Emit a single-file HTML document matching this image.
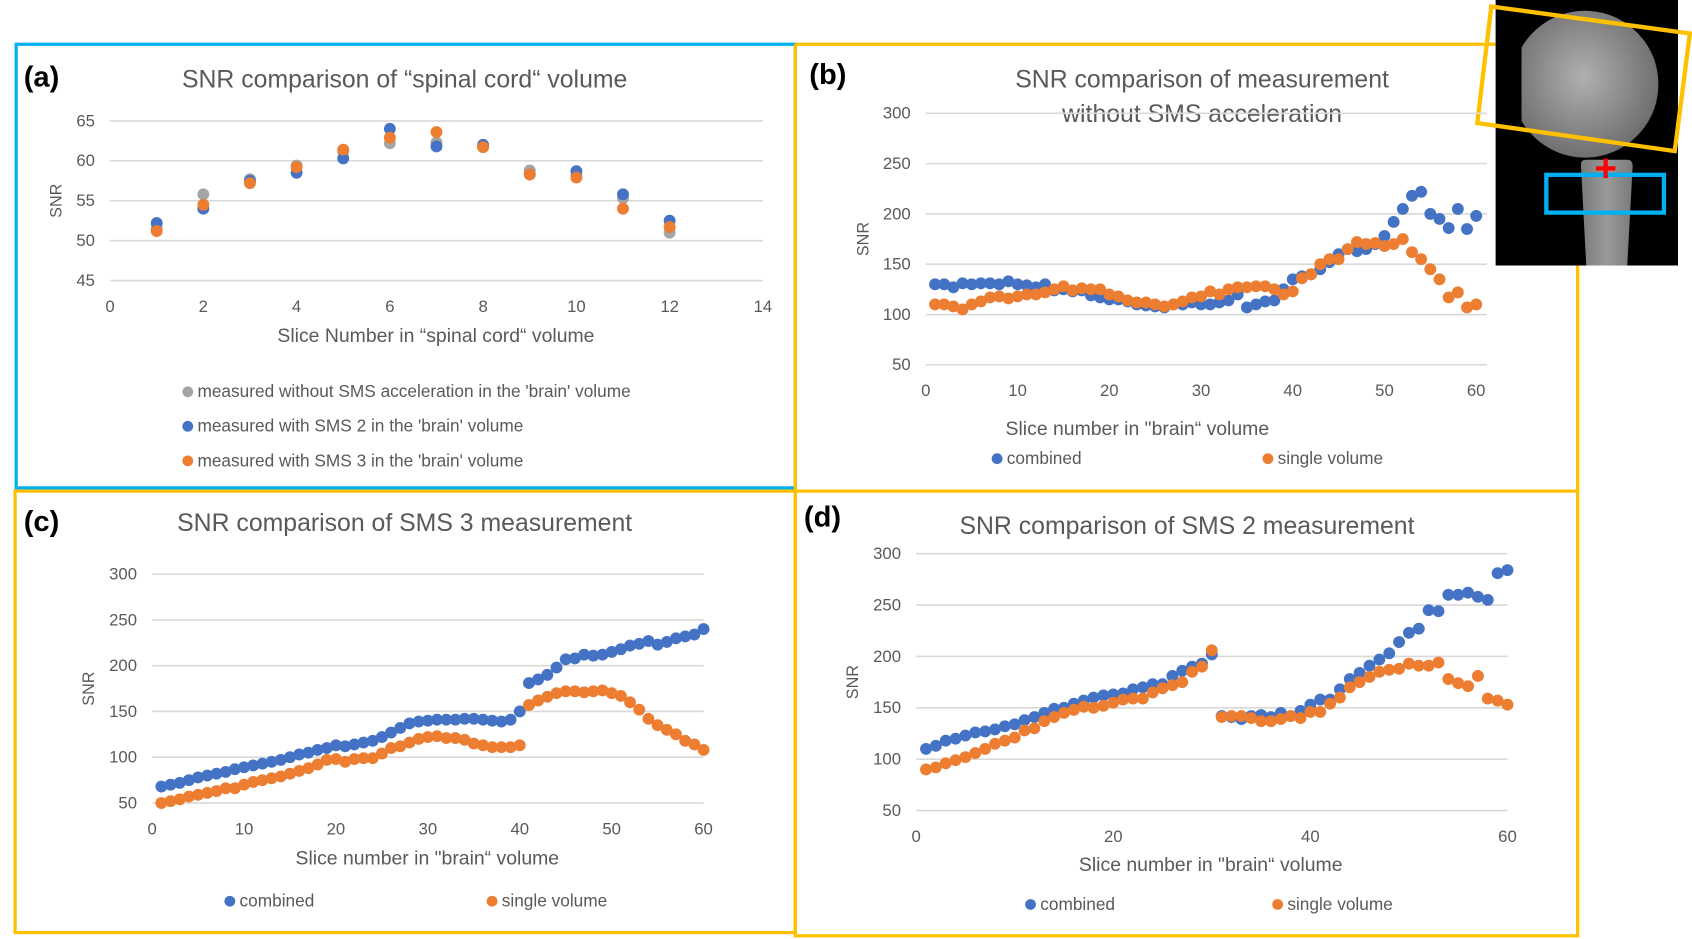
<!DOCTYPE html>
<html><head><meta charset="utf-8">
<style>
html,body{margin:0;padding:0;background:#fff;width:1692px;height:939px;overflow:hidden}
svg{display:block}
text{font-family:"Liberation Sans",sans-serif;fill:#595959}
</style></head>
<body>
<svg id="fig" width="1692" height="939" viewBox="0 0 1568 870" preserveAspectRatio="none" xmlns="http://www.w3.org/2000/svg">
  <rect x="15" y="41" width="722" height="411" fill="none" stroke="#00B0F0" stroke-width="3"/>
  <polyline points="737,41 1386,41" fill="none" stroke="#FFC000" stroke-width="3"/>
  <polyline points="1462,246 1462,455" fill="none" stroke="#FFC000" stroke-width="3"/>
  <rect x="14" y="455" width="723" height="409" fill="none" stroke="#FFC000" stroke-width="3"/>
  <rect x="737" y="455" width="725" height="412" fill="none" stroke="#FFC000" stroke-width="3"/>
  <line x1="737" y1="41" x2="737" y2="455" stroke="#FFC000" stroke-width="3"/>

  <g>
    <defs>
      <radialGradient id="sph" cx="0.45" cy="0.45" r="0.6">
        <stop offset="0" stop-color="#b0b0b0"/><stop offset="1" stop-color="#6a6a6a"/>
      </radialGradient>
      <linearGradient id="neck" x1="0" x2="1"><stop offset="0" stop-color="#7a7a7a"/><stop offset="0.5" stop-color="#9a9a9a"/><stop offset="1" stop-color="#7a7a7a"/></linearGradient>
    </defs>
    <rect x="1386" y="0" width="169" height="246" fill="#000"/>
    <path d="M1410,44 A68,68 0 1 1 1410,112 Z" fill="url(#sph)"/>
    <path d="M1465,152 Q1465,148 1470,148 L1508,148 Q1513,148 1513,154 L1508,246 L1470,246 Z" fill="url(#neck)"/>
    <polygon points="1382,6 1566,31 1552,140 1369,114" fill="none" stroke="#FFC000" stroke-width="4"/>
    <rect x="1433" y="162" width="109" height="35" fill="none" stroke="#00B0F0" stroke-width="4"/>
    <path d="M1479,156 L1497,156 M1488,147 L1488,165" stroke="#f00" stroke-width="4"/>
  </g>

  <text x="22" y="80" font-size="27" font-weight="bold" style="fill:#000">(a)</text>
  <text x="375" y="81" font-size="23" text-anchor="middle">SNR comparison of “spinal cord“ volume</text>
  <text x="750" y="78" font-size="27" font-weight="bold" style="fill:#000">(b)</text>
  <text x="1114" y="81" font-size="23" text-anchor="middle">SNR comparison of measurement</text>
  <text x="1114" y="113" font-size="23" text-anchor="middle">without SMS acceleration</text>
  <text x="22" y="492" font-size="27" font-weight="bold" style="fill:#000">(c)</text>
  <text x="375" y="492" font-size="23" text-anchor="middle">SNR comparison of SMS 3 measurement</text>
  <text x="745" y="488" font-size="27" font-weight="bold" style="fill:#000">(d)</text>
  <text x="1100" y="495" font-size="23" text-anchor="middle">SNR comparison of SMS 2 measurement</text>

  <g id="charts"></g>
</svg>
<script>
const aSlices = [1,2,3,4,5,6,7,8,9,10,11,12];
const aNoSMS = [51.5,55.8,57.7,59.4,61.2,62.2,62.3,61.8,58.8,58.2,55.3,51.0];
const aSMS2  = [52.2,54.0,57.5,58.5,60.3,64.0,61.8,62.0,58.3,58.7,55.8,52.5];
const aSMS3  = [51.2,54.5,57.2,59.2,61.4,62.9,63.6,61.7,58.3,57.9,54.0,51.7];
const aXTicks = [0,2,4,6,8,10,12,14];
const aYTicks = [45,50,55,60,65];

const bCombined = [130,130,127,131,130,131,131,130,133,130,129,127,130,124,125,123,124,119,117,115,115,113,110,109,108,107,110,110,112,110,110,112,114,120,107,110,113,114,125,135,138,140,145,152,160,165,163,165,170,178,192,205,218,222,200,195,186,205,185,198];
const bSingle   = [110,110,108,105,110,113,117,118,116,118,120,120,122,125,128,124,126,125,125,120,118,114,112,112,110,108,110,113,117,118,123,120,125,127,127,128,128,125,120,123,136,140,150,155,155,165,172,170,171,168,170,175,162,155,145,135,117,122,107,110];

const cCombined = [68,70,72,75,78,80,82,84,87,89,91,93,95,97,100,103,105,108,110,113,112,114,116,118,122,127,132,137,139,140,141,141,141,142,142,141,140,139,141,150,181,185,190,198,207,208,212,211,212,215,218,222,224,227,223,226,230,232,234,240];
const cSingle   = [50,52,54,57,59,61,63,66,66,70,73,75,77,79,82,85,88,92,97,98,95,98,99,99,104,110,112,116,120,122,123,121,121,119,115,113,111,111,111,113,157,162,166,170,172,172,171,172,173,170,167,160,152,142,135,130,125,118,114,108];

const dCombined = [110,113,118,120,123,126,127,129,132,134,138,141,145,149,150,154,157,160,162,163,164,168,170,173,173,181,186,190,193,202,142,141,139,142,143,141,145,142,147,153,158,158,168,178,184,191,197,203,214,223,227,245,244,260,260,262,258,255,281,284];
const dSingle   = [90,92,96,99,102,106,110,115,118,121,128,130,137,141,145,148,151,150,152,155,158,159,159,165,169,172,175,185,190,206,141,142,142,140,137,137,139,142,140,146,146,154,160,170,175,180,185,187,188,193,191,191,194,178,174,171,181,159,157,153];

const brainXTicksB = [0,10,20,30,40,50,60];
const brainXTicksC = [0,10,20,30,40,50,60];
const brainXTicksD = [0,20,40,60];
const brainYTicks = [50,100,150,200,250,300];

const NS = "http://www.w3.org/2000/svg";
const root = document.getElementById('charts');
function mk(tag, attrs, parent){const e=document.createElementNS(NS,tag);for(const k in attrs)e.setAttribute(k,attrs[k]);(parent||root).appendChild(e);return e;}

function chart(cfg){
  const g = mk('g',{});
  
  
  const sx = v => cfg.x0 + (v - cfg.xmin)/(cfg.xmax-cfg.xmin)*(cfg.x1-cfg.x0);
  const sy = v => cfg.y0 - (v - cfg.ymin)/(cfg.ymax-cfg.ymin)*(cfg.y0-cfg.y1);
  cfg.yTicks.forEach(t=>{
    const l = mk('line',{x1:cfg.x0,x2:cfg.gx1,y1:sy(t),y2:sy(t),stroke:'#d9d9d9','stroke-width':1.5},g);
    
    
    const tx = mk('text',{x:cfg.x0-14,y:sy(t)+5,'font-size':15.5,'text-anchor':'end'},g);
    
    
    tx.textContent = t;
  });
  cfg.xTicks.forEach(t=>{
    const tx = mk('text',{x:sx(t),y:cfg.y0+29,'font-size':15.5,'text-anchor':'middle'},g);
    
    
    tx.textContent = t;
  });
  const yl = mk('text',{x:cfg.ylx,y:(cfg.y0+cfg.y1)/2,'font-size':15,'text-anchor':'middle',transform:`rotate(-90 ${cfg.ylx} ${(cfg.y0+cfg.y1)/2})`},g);
  
  
  yl.textContent = 'SNR';
  const xl = mk('text',{x:cfg.xlx,y:cfg.xly,'font-size':18,'text-anchor':'middle'},g);
  
  
  xl.textContent = cfg.xlabel;
  cfg.series.forEach(s=>{
    const sg = mk('g',{fill:s.color},g);
    
    
    s.values.forEach((v,i)=>{
      const xv = cfg.xs ? cfg.xs[i] : i+1;
      const c = mk('circle',{cx:sx(xv),cy:sy(v),r:5.5},sg);
      
      
    });
  });
  cfg.legend.forEach(le=>{
    const lg = mk('g',{},g);
    
    
    mk('circle',{cx:le.x,cy:le.y-5,r:5,fill:le.color},lg);
    const t = mk('text',{x:le.x+9,y:le.y,'font-size':16},lg);
    t.textContent = le.text;
  });
}

const BLUE='#4472C4', ORANGE='#ED7D31', GRAY='#A5A5A5';

chart({name:'chart-a', x0:102,x1:707,gx1:707,xmin:0,xmax:14,y0:260,y1:112,ymin:45,ymax:65,
  xs:aSlices, xTicks:aXTicks, yTicks:aYTicks, ylx:57, xlx:404, xly:317,
  xlabel:'Slice Number in “spinal cord“ volume',
  series:[{key:'no-sms',color:GRAY,values:aNoSMS},{key:'sms2',color:BLUE,values:aSMS2},{key:'sms3',color:ORANGE,values:aSMS3}],
  legend:[{x:174,y:368,color:GRAY,text:"measured without SMS acceleration in the 'brain' volume"},
          {x:174,y:400,color:BLUE,text:"measured with SMS 2 in the 'brain' volume"},
          {x:174,y:432,color:ORANGE,text:"measured with SMS 3 in the 'brain' volume"}]});

chart({name:'chart-b', x0:858,x1:1368,gx1:1378,xmin:0,xmax:60,y0:338,y1:105,ymin:50,ymax:300,
  xTicks:brainXTicksB, yTicks:brainYTicks, ylx:805, xlx:1054, xly:403,
  xlabel:'Slice number  in "brain“ volume',
  series:[{key:'combined',color:BLUE,values:bCombined},{key:'single',color:ORANGE,values:bSingle}],
  legend:[{x:924,y:430,color:BLUE,text:'combined'},{x:1175,y:430,color:ORANGE,text:'single volume'}]});

chart({name:'chart-c', x0:141,x1:652,gx1:652,xmin:0,xmax:60,y0:744,y1:532,ymin:50,ymax:300,
  xTicks:brainXTicksC, yTicks:brainYTicks, ylx:87, xlx:396, xly:801,
  xlabel:'Slice number in "brain“ volume',
  series:[{key:'combined',color:BLUE,values:cCombined},{key:'single',color:ORANGE,values:cSingle}],
  legend:[{x:213,y:840,color:BLUE,text:'combined'},{x:456,y:840,color:ORANGE,text:'single volume'}]});

chart({name:'chart-d', x0:849,x1:1397,gx1:1397,xmin:0,xmax:60,y0:751,y1:513,ymin:50,ymax:300,
  xTicks:brainXTicksD, yTicks:brainYTicks, ylx:795, xlx:1122, xly:807,
  xlabel:'Slice number  in "brain“ volume',
  series:[{key:'combined',color:BLUE,values:dCombined},{key:'single',color:ORANGE,values:dSingle}],
  legend:[{x:955,y:843,color:BLUE,text:'combined'},{x:1184,y:843,color:ORANGE,text:'single volume'}]});
</script>
</body></html>
